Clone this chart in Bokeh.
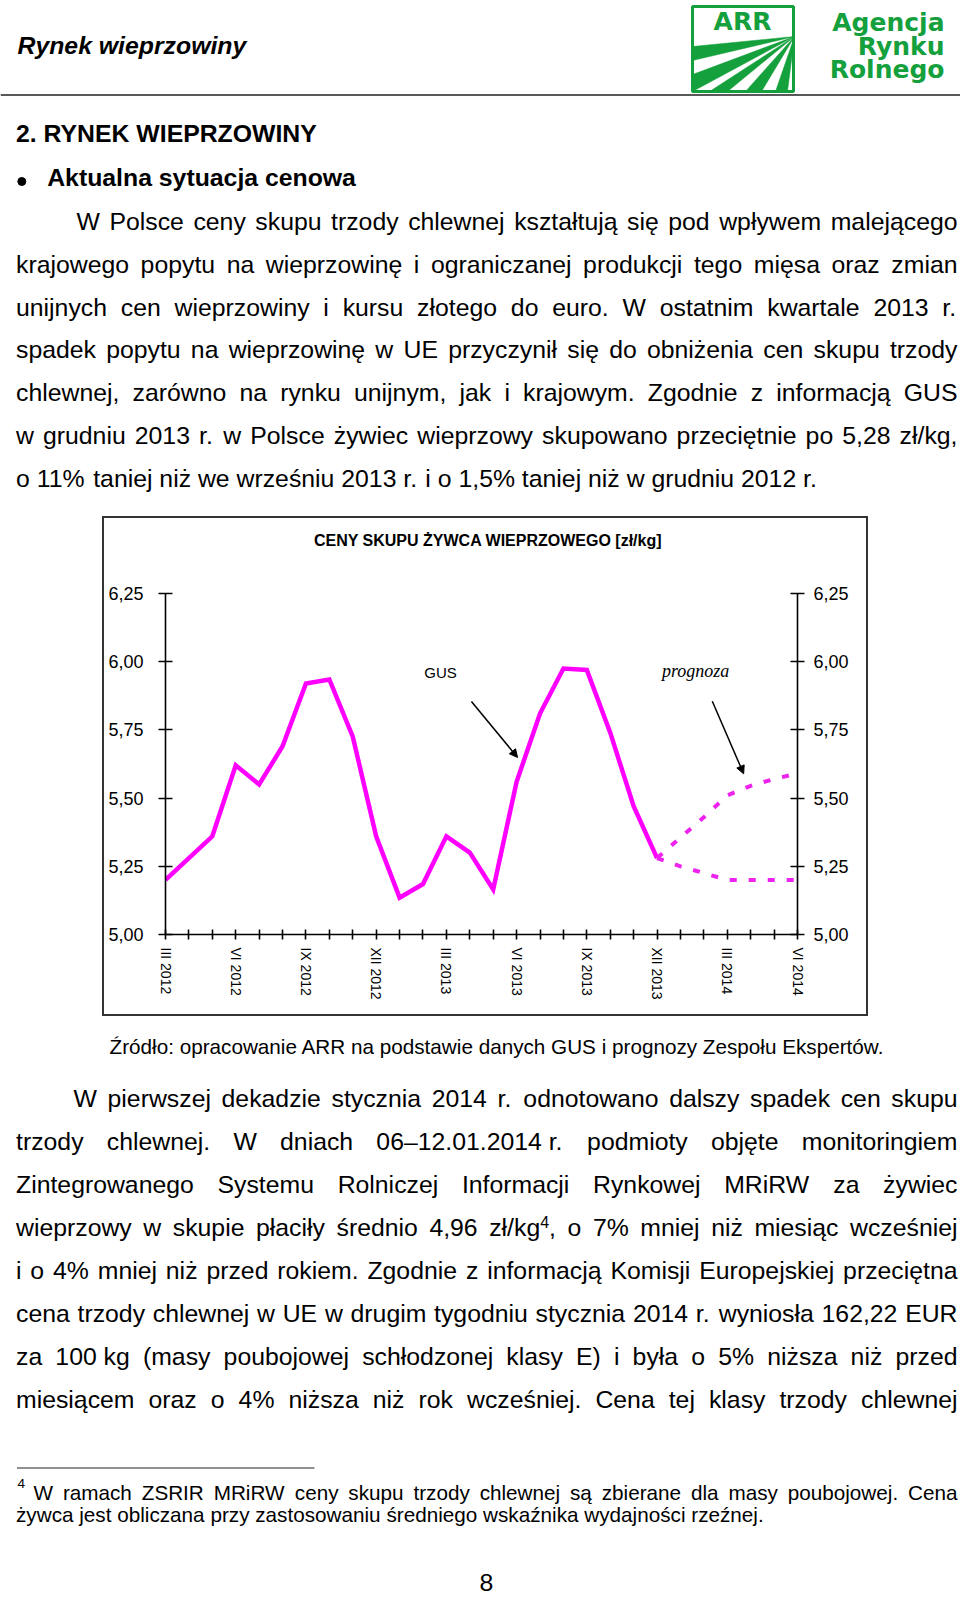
import math
from bokeh.plotting import figure
from bokeh.layouts import column, row
from bokeh.models import (Range1d, Label, Arrow, NormalHead, LinearAxis, FixedTicker,
                          CustomJSTickFormatter, Spacer, ColumnDataSource)
from bokeh.embed import file_html
from bokeh.resources import INLINE
from bokeh.core.properties import value

# ---------------- chart data ----------------
months = ["III 2012", "IV 2012", "V 2012", "VI 2012", "VII 2012", "VIII 2012", "IX 2012",
          "X 2012", "XI 2012", "XII 2012", "I 2013", "II 2013", "III 2013", "IV 2013",
          "V 2013", "VI 2013", "VII 2013", "VIII 2013", "IX 2013", "X 2013", "XI 2013",
          "XII 2013", "I 2014", "II 2014", "III 2014", "IV 2014", "V 2014", "VI 2014"]
price_gus = [5.20, 5.28, 5.36, 5.62, 5.55, 5.69, 5.92, 5.935, 5.725, 5.36, 5.135,
             5.185, 5.36, 5.30, 5.165, 5.56, 5.81, 5.975, 5.97, 5.74, 5.47, 5.28]
forecast_months = ["XII 2013", "I 2014", "II 2014", "III 2014", "IV 2014", "V 2014", "VI 2014"]
forecast_high = [5.28, 5.355, 5.43, 5.51, 5.545, 5.57, 5.59]
forecast_low = [5.28, 5.25, 5.225, 5.20, 5.20, 5.20, 5.20]
price_ticks = [5.00, 5.25, 5.50, 5.75, 6.00, 6.25]

chart_title = "CENY SKUPU ŻYWCA WIEPRZOWEGO [zł/kg]"
label_gus = "GUS"
label_forecast = "prognoza"

# ---------------- page text ----------------
header_title = "Rynek wieprzowiny"
logo_words = ["Agencja", "Rynku", "Rolnego"]
section_title = "2. RYNEK WIEPRZOWINY"
bullet_title = "Aktualna sytuacja cenowa"
para1 = [
    "W Polsce ceny skupu trzody chlewnej kształtują się pod wpływem malejącego",
    "krajowego popytu na wieprzowinę i ograniczanej produkcji tego mięsa oraz zmian",
    "unijnych cen wieprzowiny i kursu złotego do euro. W ostatnim kwartale 2013 r.",
    "spadek popytu na wieprzowinę w UE przyczynił się do obniżenia cen skupu trzody",
    "chlewnej, zarówno na rynku unijnym, jak i krajowym. Zgodnie z informacją GUS",
    "w grudniu 2013 r. w Polsce żywiec wieprzowy skupowano przeciętnie po 5,28 zł/kg,",
    "o 11% taniej niż we wrześniu 2013 r. i o 1,5% taniej niż w grudniu 2012 r.",
]
source_note = "Źródło: opracowanie ARR na podstawie danych GUS i prognozy Zespołu Ekspertów."
para2 = [
    "W pierwszej dekadzie stycznia 2014 r. odnotowano dalszy spadek cen skupu",
    "trzody chlewnej. W dniach 06–12.01.2014\u00a0r. podmioty objęte monitoringiem",
    "Zintegrowanego Systemu Rolniczej Informacji Rynkowej MRiRW za żywiec",
    "wieprzowy w skupie płaciły średnio 4,96 zł/kg⁴, o 7% mniej niż miesiąc wcześniej",
    "i o 4% mniej niż przed rokiem. Zgodnie z informacją Komisji Europejskiej przeciętna",
    "cena trzody chlewnej w UE w drugim tygodniu stycznia 2014 r. wyniosła 162,22 EUR",
    "za 100\u00a0kg (masy poubojowej schłodzonej klasy E) i była o 5% niższa niż przed",
    "miesiącem oraz o 4% niższa niż rok wcześniej. Cena tej klasy trzody chlewnej",
]
footnote = [
    "W ramach ZSRIR MRiRW ceny skupu trzody chlewnej są zbierane dla masy poubojowej. Cena",
    "żywca jest obliczana przy zastosowaniu średniego wskaźnika wydajności rzeźnej.",
]
page_number = "8"

# ---------------- font metrics (Arial / Liberation Sans, 1/1000 em) ----------------
W_REG = {}
for chars, w in [(" \u00a0,.:;/ftI", 278), ("ijlł", 222), ("r()-", 333),
                 ("cksvxyzćśźżJ", 500), ("0123456789abdeghnopquąęńóLŁ–", 556),
                 ("FTZŻŹ", 611), ("ABEKPSVXYŚĘĄ", 667), ("CDHNRUwĆŃ", 722),
                 ("GOQÓ", 778), ("Mm", 833), ("%", 889), ("W", 944)]:
    for ch in chars:
        W_REG[ch] = w

FONT = "Liberation Sans"
BODY_FS = 24.8
NOTE_FS = 20.7
PAGE_W, PAGE_H = 960, 1598
BASE_FIX = 0.36   # renderer draws "alphabetic" text this many ems low


def word_width(w, fs, sup_fs):
    tot = 0.0
    for ch in w:
        if ch == "⁴":
            tot += 556 * sup_fs / 1000.0
        else:
            tot += W_REG.get(ch, 556) * fs / 1000.0
    return tot


def lay_line(line, left, right, y, fs, sup_fs, rise, justify, out_main, out_sup):
    words = line.split(" ")
    ws = [word_width(w, fs, sup_fs) for w in words]
    if justify and len(words) > 1:
        gap = (right - left - sum(ws)) / (len(words) - 1)
    else:
        gap = W_REG[" "] * fs / 1000.0
    x = left
    for w, ww in zip(words, ws):
        cx = x
        buf = ""
        for ch in w:
            if ch == "⁴":
                if buf:
                    out_main.append((cx, y, buf))
                    cx += word_width(buf, fs, sup_fs)
                    buf = ""
                out_sup.append((cx, y - rise, "4"))
                cx += 556 * sup_fs / 1000.0
            else:
                buf += ch
        if buf:
            out_main.append((cx, y, buf))
        x += ww + gap


def put(p, items, size, font=FONT, style="normal", align="left", color="black"):
    if not items:
        return
    fs = float(size.replace("px", ""))
    src = ColumnDataSource(dict(x=[i[0] for i in items],
                                y=[i[1] - BASE_FIX * fs for i in items],
                                t=[i[2] for i in items]))
    p.text(x="x", y="y", text="t", source=src, text_font=value(font),
           text_font_size=value(size), text_font_style=style, text_align=align,
           text_baseline="alphabetic", text_color=color)


def page_fig(x_left, x_right, y_top, y_bottom):
    p = figure(width=int(round(x_right - x_left)), height=int(round(y_bottom - y_top)),
               x_range=Range1d(x_left, x_right), y_range=Range1d(y_bottom, y_top),
               x_axis_type=None, y_axis_type=None, output_backend="svg",
               toolbar_location=None, min_border=0)
    p.outline_line_color = None
    p.background_fill_color = "white"
    p.border_fill_color = "white"
    return p


LEFT = 15.5
RIGHT = 957.0

# ---------------- top part of the page ----------------
top = page_fig(0, PAGE_W, 0, 516)
put(top, [(17, 54, header_title)], "24.8px", style="bold italic")
top.segment(x0=[0], y0=[94.5], x1=[PAGE_W], y1=[94.5], line_color="#222222", line_width=1.5)

green = "#14a03c"
vp = (794, 36)
edge = [(692, 46), (692, 60), (692, 74), (692, 91), (709, 91), (727, 91), (745, 91),
        (761, 91), (775, 91), (787, 91)]
sx, sy = [], []
for k in range(0, len(edge) - 1, 2):
    sx.append([vp[0], edge[k][0], edge[k + 1][0]])
    sy.append([vp[1], edge[k][1], edge[k + 1][1]])
top.patches(sx, sy, fill_color=green, line_color=green, line_width=0.5)
top.quad(left=[692], right=[793], top=[6], bottom=[91], fill_color=None,
         line_color=green, line_width=3)
put(top, [(742, 29.5, "ARR")], "25px", font="DejaVu Sans", style="bold", align="center", color=green)
put(top, [(944, 31, logo_words[0]), (944, 54.5, logo_words[1]), (944, 78, logo_words[2])],
    "25px", font="DejaVu Sans", style="bold", align="right", color=green)

put(top, [(LEFT, 141.7, section_title), (46.7, 186, bullet_title)], "24.8px", style="bold")
top.scatter([21.3], [181], size=8, color="black")

main_items, sup_items = [], []
for k, line in enumerate(para1):
    left = 76 if k == 0 else LEFT
    lay_line(line, left, RIGHT, 230 + 42.8 * k, BODY_FS, 16, 9,
             k < len(para1) - 1, main_items, sup_items)
put(top, main_items, "24.8px")

# ---------------- chart ----------------
magenta = "#ff00ff"
x_gus = [months.index(m) for m in months[:len(price_gus)]]
x_fc = [months.index(m) for m in forecast_months]

title_fig = page_fig(104, 866, 518, 560)
put(title_fig, [(283, 546, chart_title)], "16px", style="bold")

chart = figure(width=762, height=454, x_range=Range1d(0, len(months) - 1),
               y_range=Range1d(price_ticks[0], price_ticks[-1]),
               output_backend="svg", toolbar_location=None,
               min_border_left=61, min_border_right=69, min_border_top=33, min_border_bottom=80)
chart.outline_line_color = None
chart.grid.visible = False

xfmt = CustomJSTickFormatter(args=dict(labels=months),
                             code="const i = Math.round(tick); return (i % 3 === 0) ? labels[i] : '';")
xa = chart.xaxis[0]
xa.ticker = FixedTicker(ticks=list(range(len(months))))
xa.formatter = xfmt
xa.major_label_orientation = "vertical"
xa.major_tick_in = 5
xa.major_tick_out = 5
xa.minor_tick_line_color = None
xa.major_label_standoff = 8
xa.major_label_text_font = FONT
xa.major_label_text_font_size = "14px"
xa.major_label_text_color = "black"
xa.axis_line_width = 1.6
xa.major_tick_line_width = 1.6

yfmt = CustomJSTickFormatter(code="return tick.toFixed(2).replace('.', ',');")
ya = chart.yaxis[0]
yr = LinearAxis()
chart.add_layout(yr, "right")
for ax, standoff in [(ya, 15), (yr, 9)]:
    ax.ticker = FixedTicker(ticks=price_ticks)
    ax.formatter = yfmt
    ax.major_tick_in = 7
    ax.major_tick_out = 7
    ax.minor_tick_line_color = None
    ax.major_label_standoff = standoff
    ax.major_label_text_font = FONT
    ax.major_label_text_font_size = "18px"
    ax.major_label_text_color = "black"
    ax.axis_line_width = 1.6
    ax.major_tick_line_width = 1.6

chart.line(x_gus, price_gus, line_width=4.5, line_color=magenta, line_join="miter")
chart.line(x_fc, forecast_high, line_width=4, line_color="#ee22ee", line_dash="7 12")
chart.line(x_fc, forecast_low, line_width=4, line_color="#ee22ee", line_dash="7 12")

chart.add_layout(Label(x=11.75, y=5.960, text=label_gus, text_align="center",
                       text_baseline="alphabetic", text_font=FONT, text_font_size="15px",
                       text_color="black"))
chart.add_layout(Label(x=22.65, y=5.965, text=label_forecast, text_align="center",
                       text_baseline="alphabetic", text_font="Liberation Serif",
                       text_font_size="18px", text_font_style="italic", text_color="black"))
chart.add_layout(Arrow(end=NormalHead(size=8, fill_color="black", line_color="black"),
                       x_start=13.07, y_start=5.854, x_end=15.04, y_end=5.649,
                       line_width=1.5, line_color="black"))
chart.add_layout(Arrow(end=NormalHead(size=8, fill_color="black", line_color="black"),
                       x_start=23.36, y_start=5.855, x_end=24.70, y_end=5.589,
                       line_width=1.5, line_color="black"))

dark = {"background-color": "#333333"}
chart_block = column(
    Spacer(width=766, height=2, styles=dark),
    row(Spacer(width=2, height=496, styles=dark), column(title_fig, chart),
        Spacer(width=2, height=496, styles=dark)),
    Spacer(width=766, height=2, styles=dark),
)
middle = row(Spacer(width=102, height=500), chart_block)

# ---------------- bottom part of the page ----------------
bottom = page_fig(0, PAGE_W, 1016, PAGE_H)
put(bottom, [(109, 1053.5, source_note)], "20.7px")

main_items, sup_items = [], []
for k, line in enumerate(para2):
    left = 73 if k == 0 else LEFT
    lay_line(line, left, RIGHT, 1107.3 + 42.9 * k, BODY_FS, 16, 9, True, main_items, sup_items)
put(bottom, main_items, "24.8px")
put(bottom, sup_items, "16px")

bottom.segment(x0=[16.5], y0=[1467.5], x1=[314], y1=[1467.5], line_color="#222222", line_width=1.2)
fn_main, fn_sup = [], []
lay_line(footnote[0], 33, RIGHT, 1499.5, NOTE_FS, 13, 9, True, fn_main, fn_sup)
lay_line(footnote[1], LEFT, RIGHT, 1521.5, NOTE_FS, 13, 9, False, fn_main, fn_sup)
put(bottom, fn_main, "20.7px")
put(bottom, [(17, 1488, "4")], "13.5px")
put(bottom, [(486, 1591, page_number)], "24.8px", align="center")

layout = column(top, middle, bottom)
open("out.html", "w").write(file_html(layout, INLINE))
